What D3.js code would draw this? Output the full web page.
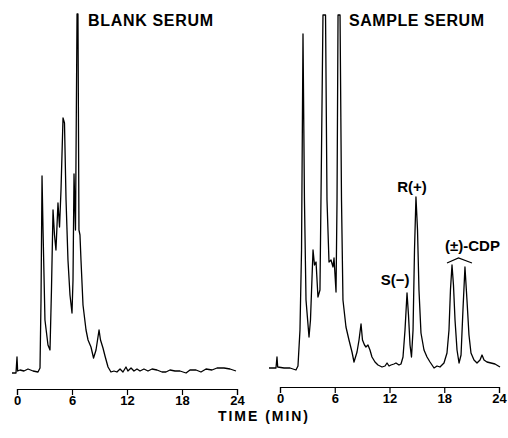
<!DOCTYPE html>
<html>
<head>
<meta charset="utf-8">
<script src="https://cdn.jsdelivr.net/npm/d3@7"></script>
<style>
  body { margin: 0; background: #fff; }
  svg { display: block; font-family: "Liberation Sans", Arial, sans-serif; }
</style>
</head>
<body>
<div id="chart"></div>
<script>
// time in minutes, detector response (arbitrary units)
const blankTime = [-0.55, -0.11, 0.0, 0.07, 0.33, 0.76, 1.2, 1.75, 2.29, 2.51, 2.62, 2.73, 2.84, 3.05, 3.38, 3.6,
  3.76, 3.93, 4.09, 4.25, 4.47, 4.64, 4.8, 5.02, 5.18, 5.35, 5.56, 5.78, 6.0, 6.11, 6.22, 6.38, 6.55, 6.65,
  6.76, 6.87, 6.98, 7.2, 7.53, 7.75, 8.07, 8.35, 8.62, 8.95, 9.11, 9.38, 9.6, 9.93, 10.25, 10.58, 10.9,
  11.24, 11.56, 11.89, 12.1, 12.44, 12.76, 13.09, 13.42, 13.85, 14.29, 14.73, 15.27, 15.82, 16.25, 16.69,
  17.24, 17.78, 18.44, 18.87, 19.53, 20.07, 20.62, 21.27, 21.82, 22.58, 23.24, 23.89];
const blankSignal = [1, 1, 17, 3, 4, 3, 5, 3, 2, 6, 74, 198, 144, 54, 29, 24,
  84, 164, 139, 124, 171, 147, 184, 256, 251, 174, 114, 79, 61, 94, 200, 144, 360, 360,
  144, 139, 114, 69, 44, 34, 27, 16, 24, 44, 34, 26, 18, 7, 2, 3, 2,
  5, 2, 7, 3, 6, 3, 5, 3, 5, 3, 5, 4, 2, 2, 4,
  3, 3, 1, 4, 4, 2, 5, 4, 6, 6, 5, 3];

const sampleTime = [-1.21, -0.44, -0.33, -0.25, 0.44, 1.1, 1.75, 1.97, 2.19, 2.36, 2.52, 2.68, 2.85, 3.18,
  3.34, 3.62, 3.78, 3.95, 4.16, 4.38, 4.55, 4.71, 4.99, 5.15, 5.37, 5.59, 5.81, 5.92, 6.14, 6.25, 6.36,
  6.58, 6.74, 6.9, 7.23, 7.56, 7.89, 8.11, 8.44, 8.66, 8.88, 9.04, 9.26, 9.42, 9.64, 9.86, 10.08, 10.41,
  10.74, 11.18, 11.51, 11.73, 11.95, 12.16, 12.49, 12.71, 13.04, 13.26, 13.48, 13.7, 13.92, 14.08, 14.25,
  14.41, 14.58, 14.74, 14.9, 15.07, 15.23, 15.45, 15.78, 16.11, 16.44, 16.88, 17.21, 17.53, 17.97, 18.3,
  18.52, 18.68, 18.85, 19.01, 19.18, 19.4, 19.62, 19.84, 20.05, 20.27, 20.49, 20.71, 20.93, 21.26, 21.59,
  21.92, 22.14, 22.36, 22.68, 23.12, 23.56, 24.11];
const sampleSignal = [6, 6, 17, 7, 6, 6, 4, 8, 44, 124, 340, 174, 74, 37,
  54, 124, 109, 112, 77, 84, 224, 359, 359, 174, 112, 114, 107, 116, 82, 174, 359,
  359, 174, 74, 47, 34, 22, 12, 22, 34, 50, 34, 29, 27, 29, 24, 17, 12,
  9, 7, 8, 11, 8, 9, 10, 11, 9, 10, 17, 44, 81, 59, 29,
  17, 44, 124, 177, 144, 84, 41, 24, 17, 12, 6, 8, 7, 11, 21,
  44, 84, 109, 89, 54, 24, 11, 19, 64, 107, 74, 39, 21, 14, 11,
  14, 19, 14, 12, 11, 10, 7];

const timeTicks = [0, 6, 12, 18, 24];
const panelTitles = ['BLANK SERUM', 'SAMPLE SERUM'];
const peakLabels = [
  { text: 'S(\u2212)', time: 13.92 },
  { text: 'R(+)', time: 14.9 },
  { text: '(\u00b1)-CDP', time: [18.85, 20.27] }
];

const width = 508;
const height = 438;

const svg = d3.select('#chart').append('svg')
  .attr('width', width)
  .attr('height', height);

const y = d3.scaleLinear().domain([0, 360]).range([374, 14]);

const panels = [
  { time: blankTime, signal: blankSignal, x: d3.scaleLinear().domain([0, 24]).range([17, 237]), axisY: 389, title: panelTitles[0], titleX: 88, titleW: 125 },
  { time: sampleTime, signal: sampleSignal, x: d3.scaleLinear().domain([0, 24]).range([280, 499]), axisY: 387, title: panelTitles[1], titleX: 349, titleW: 135 }
];

panels.forEach(p => {
  const g = svg.append('g');
  const pts = p.time.map((t, i) => [t, p.signal[i]]);

  g.append('path')
    .datum(pts)
    .attr('fill', 'none')
    .attr('stroke', '#000')
    .attr('stroke-width', 1.3)
    .attr('stroke-linejoin', 'round')
    .attr('d', d3.line().x(d => p.x(d[0])).y(d => y(d[1])));

  const axis = g.append('g')
    .attr('transform', `translate(0,${p.axisY})`)
    .call(d3.axisBottom(p.x).tickValues(timeTicks).tickSizeOuter(0).tickSize(6).tickPadding(1));
  axis.select('.domain').attr('stroke-width', 1.2);
  axis.selectAll('.tick line').attr('stroke-width', 1.2);
  axis.selectAll('.tick text')
    .attr('font-size', 13)
    .attr('font-weight', 'bold')
    .attr('font-family', '"Liberation Sans", Arial, sans-serif');

  g.append('text')
    .attr('x', p.titleX)
    .attr('y', 26)
    .attr('textLength', p.titleW)
    .attr('lengthAdjust', 'spacing')
    .attr('font-size', 16)
    .attr('font-weight', 'bold')
    .text(p.title);
});

// peak annotations on the sample panel
const xs = panels[1].x;
svg.append('text')
  .attr('x', xs(peakLabels[0].time) - 12)
  .attr('y', 285)
  .attr('text-anchor', 'middle')
  .attr('font-size', 15)
  .attr('font-weight', 'bold')
  .text(peakLabels[0].text);

svg.append('text')
  .attr('x', xs(peakLabels[1].time) - 4)
  .attr('y', 192)
  .attr('text-anchor', 'middle')
  .attr('font-size', 15)
  .attr('font-weight', 'bold')
  .text(peakLabels[1].text);

const cdpMid = (xs(peakLabels[2].time[0]) + xs(peakLabels[2].time[1])) / 2;
svg.append('text')
  .attr('x', cdpMid + 14)
  .attr('y', 251)
  .attr('text-anchor', 'middle')
  .attr('font-size', 15)
  .attr('font-weight', 'bold')
  .text(peakLabels[2].text);

svg.append('path')
  .attr('fill', 'none')
  .attr('stroke', '#000')
  .attr('stroke-width', 1.2)
  .attr('d', `M${xs(peakLabels[2].time[0]) - 5},263 L${cdpMid},258 L${xs(peakLabels[2].time[1]) + 7},263`);

svg.append('text')
  .attr('x', 263)
  .attr('y', 421)
  .attr('text-anchor', 'middle')
  .attr('textLength', 90)
  .attr('lengthAdjust', 'spacing')
  .attr('font-size', 14)
  .attr('font-weight', 'bold')
  .text('TIME (MIN)');
</script>
</body>
</html>
